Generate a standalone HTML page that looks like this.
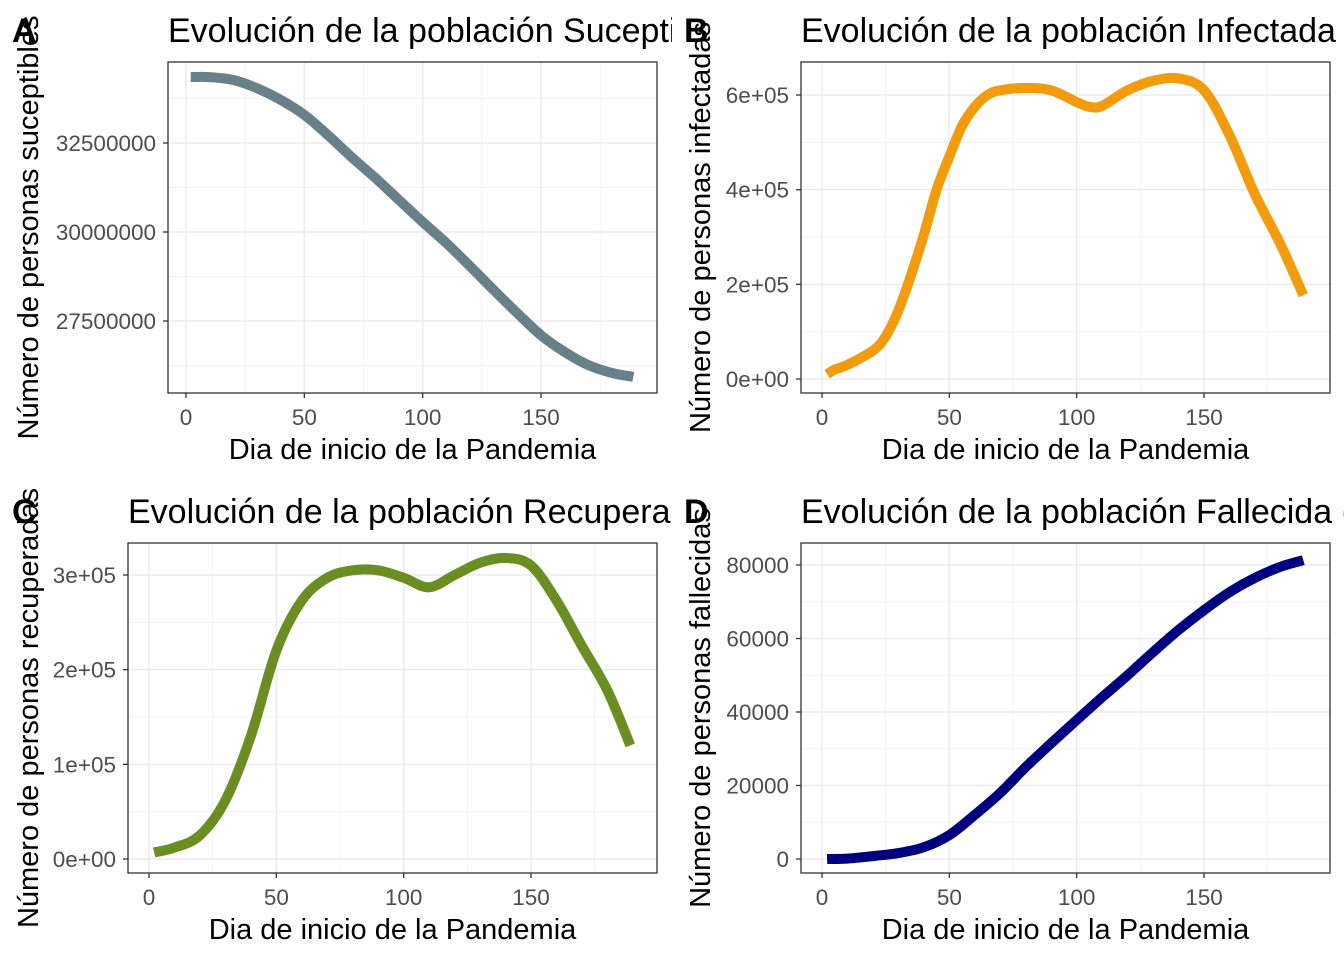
<!DOCTYPE html>
<html><head><meta charset="utf-8"><style>
html,body{margin:0;padding:0;background:#fff}
svg{display:block;font-family:"Liberation Sans",Arial,sans-serif}
</style></head><body>
<svg id="c" width="1344" height="960" viewBox="0 0 1344 960" xmlns="http://www.w3.org/2000/svg">
<defs>
<clipPath id="colL"><rect x="0" y="0" width="672" height="960"/></clipPath>
<clipPath id="colR"><rect x="672" y="0" width="672" height="960"/></clipPath>
</defs>
</svg>
<script>
const days = [2,10,20,30,40,50,60,70,80,90,100,110,120,130,140,150,160,170,180,189];
const susceptibles = [34.35e6,34.35e6,34.27e6,34.04e6,33.71e6,33.29e6,32.72e6,32.1e6,31.52e6,30.9e6,30.28e6,29.69e6,29.04e6,28.37e6,27.72e6,27.1e6,26.63e6,26.26e6,26.04e6,25.93e6];
const infectadosDays = [2,5,10,20,25,30,35,40,45,50,55,60,65,70,80,90,100,105,110,120,130,140,150,160,170,180,189];
const infectados = [1e4,2e4,3e4,6e4,9e4,1.45e5,2.2e5,3.05e5,4e5,4.7e5,5.35e5,5.75e5,6e5,6.1e5,6.15e5,6.1e5,5.85e5,5.75e5,5.77e5,6.1e5,6.3e5,6.35e5,6.1e5,5.15e5,3.9e5,2.85e5,1.77e5];
const recuperados = [7e3,1.2e4,2.5e4,6.2e4,1.3e5,2.2e5,2.73e5,2.97e5,3.05e5,3.05e5,2.97e5,2.87e5,3e5,3.13e5,3.18e5,3.1e5,2.73e5,2.25e5,1.78e5,1.2e5];
const fallecidos = [0,100,800,1600,3200,6500,12000,18000,25000,31500,37800,44000,50000,56300,62300,67700,72600,76500,79500,81300];
const xTicks = [0,50,100,150];
const xMinor = [25,75,125,175];
const yTicksA = [27500000,30000000,32500000];
const yMinorA = [26250000,28750000,31250000,33750000];
const yTicksB = [0,200000,400000,600000];
const yLabelsB = ["0e+00","2e+05","4e+05","6e+05"];
const yTicksC = [0,100000,200000,300000];
const yLabelsC = ["0e+00","1e+05","2e+05","3e+05"];
const yTicksD = [0,20000,40000,60000,80000];
const yLabelsD = ["0","20000","40000","60000","80000"];

const NS="http://www.w3.org/2000/svg";
const svg=document.getElementById('c');
function mk(tag,attrs,parent){const e=document.createElementNS(NS,tag);for(const k in attrs)e.setAttribute(k,attrs[k]);(parent||svg).appendChild(e);return e;}
function lin(d0,p0,d1,p1){return v=>p0+(v-d0)*(p1-p0)/(d1-d0);}
function smooth(p){
  let d='M'+p[0][0].toFixed(1)+','+p[0][1].toFixed(1);
  for(let i=0;i<p.length-1;i++){
    const p0=p[i-1]||p[i],p1=p[i],p2=p[i+1],p3=p[i+2]||p2;
    const c1=[p1[0]+(p2[0]-p0[0])/6,p1[1]+(p2[1]-p0[1])/6];
    const c2=[p2[0]-(p3[0]-p1[0])/6,p2[1]-(p3[1]-p1[1])/6];
    d+=` C${c1[0].toFixed(1)},${c1[1].toFixed(1)} ${c2[0].toFixed(1)},${c2[1].toFixed(1)} ${p2[0].toFixed(1)},${p2[1].toFixed(1)}`;
  }
  return d;
}

function panel(cfg){
  const g=mk('g',{'clip-path':cfg.clip});
  
  
  const {L,R,T,B}=cfg;
  xMinor.forEach(v=>{const x=cfg.sx(v);if(x>L&&x<R)mk('line',{x1:x,x2:x,y1:T,y2:B,stroke:'#f3f3f3','stroke-width':1},g);});
  cfg.yMinor.forEach(v=>{const y=cfg.sy(v);if(y>T&&y<B)mk('line',{x1:L,x2:R,y1:y,y2:y,stroke:'#f3f3f3','stroke-width':1},g);});
  xTicks.forEach(v=>{const x=cfg.sx(v);mk('line',{x1:x,x2:x,y1:T,y2:B,stroke:'#ebebeb','stroke-width':1.5},g);});
  cfg.yTicks.forEach(v=>{const y=cfg.sy(v);mk('line',{x1:L,x2:R,y1:y,y2:y,stroke:'#ebebeb','stroke-width':1.5},g);});
  const pts=cfg.xs.map((d,i)=>[cfg.sx(d),cfg.sy(cfg.ys[i])]);
  const pl=mk('path',{d:smooth(pts),fill:'none',stroke:cfg.color,'stroke-width':10,'stroke-linejoin':'round'},g);
  
  
  mk('rect',{x:L,y:T,width:R-L,height:B-T,fill:'none',stroke:'#333','stroke-width':1.3},g);
  xTicks.forEach(v=>{const x=cfg.sx(v);mk('line',{x1:x,x2:x,y1:B,y2:B+5,stroke:'#333','stroke-width':1.3},g);
    const t=mk('text',{x:x,y:B+32,'text-anchor':'middle','font-size':22.5,fill:'#4d4d4d'},g);t.textContent=v;
    });
  cfg.yTicks.forEach((v,i)=>{const y=cfg.sy(v);mk('line',{x1:L-5,x2:L,y1:y,y2:y,stroke:'#333','stroke-width':1.3},g);
    const t=mk('text',{x:L-12,y:y+8,'text-anchor':'end','font-size':22.5,fill:'#4d4d4d'},g);t.textContent=cfg.yLabels[i];
    });
  const xt=mk('text',{x:(L+R)/2,y:B+66,'text-anchor':'middle','font-size':29,fill:'#000'},g);xt.textContent='Dia de inicio de la Pandemia';
  
  const yc=(T+B)/2;
  const yt=mk('text',{x:cfg.ytx,y:yc,'text-anchor':'middle','font-size':29,fill:'#000',transform:`rotate(-90 ${cfg.ytx} ${yc})`},g);yt.textContent=cfg.ytitle;
  
  const tt=mk('text',{x:L,y:T-20,'font-size':34,fill:'#000'},g);tt.textContent=cfg.title;
  
  const tag=mk('text',{x:cfg.tagx,y:T-20,'font-size':34,'font-weight':'bold',fill:'#000'});tag.textContent=cfg.tag;
  
}

panel({name:'panel-a',clip:'url(#colL)',L:168,R:657,T:62,B:393,sx:lin(0,186,150,541),sy:lin(27500000,321,32500000,143),
  yTicks:yTicksA,yLabels:yTicksA.map(String),yMinor:yMinorA,xs:days,ys:susceptibles,color:'#688089',
  ytitle:'Número de personas suceptibles',ytx:38,title:'Evolución de la población Suceptibles (S)',tag:'A',tagx:12});
panel({name:'panel-b',clip:'url(#colR)',L:801,R:1330,T:62,B:393,sx:lin(0,822,150,1204),sy:lin(0,379,600000,95),
  yTicks:yTicksB,yLabels:yLabelsB,yMinor:[100000,300000,500000],xs:infectadosDays,ys:infectados,color:'#f29b0c',
  ytitle:'Número de personas infectadas',ytx:710,title:'Evolución de la población Infectada (I)',tag:'B',tagx:684});
panel({name:'panel-c',clip:'url(#colL)',L:128,R:657,T:543,B:873,sx:lin(0,149,150,531),sy:lin(0,859,300000,575),
  yTicks:yTicksC,yLabels:yLabelsC,yMinor:[50000,150000,250000],xs:days,ys:recuperados,color:'#6b8e23',
  ytitle:'Número de personas recuperadas',ytx:38,title:'Evolución de la población Recuperada (R)',tag:'C',tagx:12});
panel({name:'panel-d',clip:'url(#colR)',L:801,R:1330,T:543,B:873,sx:lin(0,822,150,1204),sy:lin(0,859,80000,565),
  yTicks:yTicksD,yLabels:yLabelsD,yMinor:[10000,30000,50000,70000],xs:days,ys:fallecidos,color:'#000080',
  ytitle:'Número de personas fallecidas',ytx:710,title:'Evolución de la población Fallecida (D)',tag:'D',tagx:684});
</script>
</body></html>
